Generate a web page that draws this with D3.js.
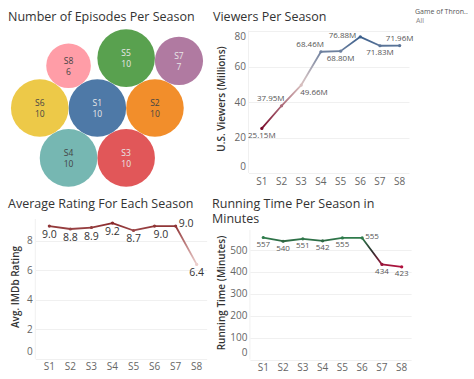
<!DOCTYPE html>
<meta charset="utf-8">
<title>Game of Thrones dashboard</title>
<style>
body {
  margin: 0;
  background: #fff;
}
svg {
  position: absolute;
  top: 0;
  left: 0;
  font-family: "Open Sans", "Noto Sans", sans-serif;
}
.title {
  font-size: 12.5px;
  fill: #333;
}
.tick-label {
  font-size: 10px;
  fill: #666;
}
.axis-title {
  font-size: 10px;
  font-weight: 600;
  fill: #333;
}
.grid {
  stroke: #f0f0f0;
  stroke-width: 1;
}
</style>
<body>
<script src="https://d3js.org/d3.v7.min.js"></script>
<script>

var width = 474,
    height = 379;

// ---- data ----
var seasons = ["S1", "S2", "S3", "S4", "S5", "S6", "S7", "S8"];
var episodes = [10, 10, 10, 10, 10, 10, 7, 6];
var viewers = [25.15, 37.95, 49.66, 68.46, 68.80, 76.88, 71.83, 71.96];
var ratings = [9.0, 8.8, 8.9, 9.2, 8.7, 9.0, 9.0, 6.4];
var runtimes = [557, 540, 551, 542, 555, 555, 434, 423];

var viewerTicks = [0, 20, 40, 60, 80];
var ratingTicks = [0, 2, 4, 6, 8];
var runtimeTicks = [0, 100, 200, 300, 400, 500];

var bubbleColors = ["#4e79a7", "#f28e2b", "#e15759", "#76b7b2", "#59a14f", "#edc948", "#b07aa1", "#ff9da7"];
// which bubbles each bubble sits against in the packed layout
var bubbleLinks = [["S1"], ["S2", "S1", "right"], ["S6", "S1", "left"], ["S5", "S1", "S2"],
                   ["S3", "S2", "S1"], ["S4", "S1", "S6"], ["S8", "S6", "S1"], ["S7", "S5", "S2"]];

// label placement around each point
var viewerLabelPos = ["b", "al", "br", "al", "b", "l", "b", "a"];
var ratingLabelPos = ["b", "b", "b", "b", "b", "br", "r", "b"];
var runtimeLabelPos = ["b", "b", "b", "b", "b", "r", "b", "b"];

var svg = d3.select("body").append("svg")
    .attr("width", width)
    .attr("height", height);

var defs = svg.append("defs");

// ================= bubbles =================
svg.append("text").attr("class", "title")
    .attr("x", 8).attr("y", 21)
    .text("Number of Episodes Per Season");

var rScale = d3.scaleSqrt().domain([0, 10]).range([0, 28.8]);

var nodes = {};
seasons.forEach(function(s, i) {
  nodes[s] = {season: s, value: episodes[i], r: rScale(episodes[i]), color: bubbleColors[i]};
});

// circle of radius c.r touching a and b, on the left side of a -> b
function place(a, b, c) {
  var dx = b.x - a.x, dy = b.y - a.y,
      d = Math.sqrt(dx * dx + dy * dy),
      la = a.r + c.r, lb = b.r + c.r,
      x = (d * d + la * la - lb * lb) / (2 * d),
      h = Math.sqrt(Math.max(0, la * la - x * x)),
      ux = dx / d, uy = dy / d;
  c.x = a.x + x * ux + h * uy;
  c.y = a.y + x * uy - h * ux;
}

bubbleLinks.forEach(function(l) {
  var c = nodes[l[0]];
  if (l.length == 1) { c.x = 0; c.y = 0; return; }
  var a = nodes[l[1]];
  if (l[2] == "right") { c.x = a.x + a.r + c.r; c.y = a.y; return; }
  if (l[2] == "left") { c.x = a.x - a.r - c.r; c.y = a.y; return; }
  place(a, nodes[l[2]], c);
});

var bubbleData = seasons.map(function(s) { return nodes[s]; });
var bx0 = d3.min(bubbleData, function(d) { return d.x - d.r; }),
    bx1 = d3.max(bubbleData, function(d) { return d.x + d.r; }),
    by0 = d3.min(bubbleData, function(d) { return d.y - d.r; }),
    by1 = d3.max(bubbleData, function(d) { return d.y + d.r; });

var bubbles = svg.append("g")
    .attr("transform", "translate(" + (107 - (bx0 + bx1) / 2) + "," + (108 - (by0 + by1) / 2) + ")");

var bub = bubbles.selectAll("g")
    .data(bubbleData)
  .enter().append("g")
    .attr("transform", function(d) { return "translate(" + d.x + "," + d.y + ")"; });

bub.append("circle")
    .attr("r", function(d) { return d.r; })
    .attr("fill", function(d) { return d.color; });

var lightText = {"S1": 1, "S3": 1, "S5": 1, "S7": 1};
bub.append("text")
    .attr("text-anchor", "middle")
    .attr("font-size", 8.5)
    .attr("fill", function(d) { return lightText[d.season] ? "#e8e8e8" : "#444"; })
    .selectAll("tspan")
    .data(function(d) { return [d.season, d.value]; })
  .enter().append("tspan")
    .attr("x", 0)
    .attr("y", function(d, i) { return i == 0 ? -2 : 9; })
    .text(function(d) { return d; });

// ================= line charts =================
function lineChart(opt) {
  var g = svg.append("g");

  var x = d3.scalePoint().domain(seasons).range([opt.x0, opt.x1]).padding(0.5);
  var y = d3.scaleLinear().domain([0, opt.ticks[opt.ticks.length - 1]]).range([opt.yBottom, opt.yTopTick]);

  // grid
  g.selectAll("line.grid")
      .data(opt.ticks)
    .enter().append("line")
      .attr("class", "grid")
      .attr("x1", opt.x0 - 3).attr("x2", opt.x1)
      .attr("y1", function(d) { return Math.round(y(d)) + 0.5; })
      .attr("y2", function(d) { return Math.round(y(d)) + 0.5; });

  g.append("line")
      .attr("class", "grid")
      .attr("x1", opt.x0 - 3.5).attr("x2", opt.x0 - 3.5)
      .attr("y1", opt.yTop).attr("y2", opt.yBottom);

  // y tick labels, kept inside the pane like tableau does
  g.selectAll("text.ytick")
      .data(opt.ticks)
    .enter().append("text")
      .attr("class", "tick-label")
      .attr("text-anchor", "end")
      .attr("x", opt.x0 - 6)
      .attr("y", function(d) { return Math.max(opt.yTop + 6, Math.min(opt.yBottom - 7, y(d))) + 3.5; })
      .text(function(d) { return d; });

  // x labels
  g.selectAll("text.xtick")
      .data(seasons)
    .enter().append("text")
      .attr("class", "tick-label")
      .attr("text-anchor", "middle")
      .attr("x", function(d) { return x(d); })
      .attr("y", opt.yBottom + 11.5)
      .text(function(d) { return d; });

  // axis title
  g.append("text")
      .attr("class", "axis-title")
      .attr("text-anchor", "middle")
      .attr("transform", "translate(" + opt.titleX + "," + opt.titleY + ") rotate(-90)")
      .text(opt.yTitle);

  var pts = opt.values.map(function(v, i) { return [x(seasons[i]), y(v), v]; });

  // one gradient segment between each pair of points
  d3.pairs(pts).forEach(function(p, i) {
    var id = opt.id + "-seg" + i;
    var grad = defs.append("linearGradient")
        .attr("id", id)
        .attr("gradientUnits", "userSpaceOnUse")
        .attr("x1", p[0][0]).attr("y1", p[0][1])
        .attr("x2", p[1][0]).attr("y2", p[1][1]);
    d3.range(0, 1.001, 0.25).forEach(function(t) {
      grad.append("stop")
          .attr("offset", t)
          .attr("stop-color", opt.color(p[0][2] + (p[1][2] - p[0][2]) * t));
    });
    g.append("line")
        .attr("x1", p[0][0]).attr("y1", p[0][1])
        .attr("x2", p[1][0]).attr("y2", p[1][1])
        .attr("stroke", "url(#" + id + ")")
        .attr("stroke-width", 1.8)
        .attr("stroke-linecap", "round");
  });

  g.selectAll("circle")
      .data(pts)
    .enter().append("circle")
      .attr("cx", function(d) { return d[0]; })
      .attr("cy", function(d) { return d[1]; })
      .attr("r", 1.6)
      .attr("fill", function(d) { return opt.color(d[2]); });

  // point labels
  g.selectAll("text.mark")
      .data(pts)
    .enter().append("text")
      .attr("font-size", opt.labelSize)
      .attr("fill", opt.labelColor)
      .attr("text-anchor", function(d, i) {
        var p = opt.labelPos[i];
        return p == "al" || p == "l" ? "end" : (p == "br" || p == "r" ? "start" : "middle");
      })
      .attr("x", function(d, i) {
        var p = opt.labelPos[i];
        if (p == "al") return d[0] + 3;
        if (p == "l") return d[0] - 4;
        if (p == "br") return d[0] - 1;
        if (p == "r") return d[0] + 3;
        return d[0];
      })
      .attr("y", function(d, i) {
        var p = opt.labelPos[i];
        if (p == "a" || p == "al") return d[1] - 5;
        if (p == "l" || p == "r") return d[1] + 1;
        return d[1] + opt.labelSize + 1.5;
      })
      .text(function(d) { return opt.format(d[2]); });
}

// viewers per season
svg.append("text").attr("class", "title")
    .attr("x", 213).attr("y", 21)
    .text("Viewers Per Season");

lineChart({
  id: "viewers",
  values: viewers,
  ticks: viewerTicks,
  x0: 252, x1: 409.5,
  yTop: 30.5, yTopTick: 31.3, yBottom: 173,
  yTitle: "U.S. Viewers (Millions)", titleX: 225, titleY: 99,
  color: d3.scaleLinear().domain([25.15, 51, 76.88]).range(["#7a0b2b", "#dcc8c6", "#3a5f8c"]),
  labelPos: viewerLabelPos,
  labelSize: 8,
  labelColor: "#555",
  format: function(v) { return v.toFixed(2) + "M"; }
});

// average rating
svg.append("text").attr("class", "title")
    .attr("x", 8).attr("y", 207.5)
    .text("Average Rating For Each Season");

lineChart({
  id: "rating",
  values: ratings,
  ticks: ratingTicks,
  x0: 38.8, x1: 207.2,
  yTop: 219, yTopTick: 240.8, yBottom: 358.8,
  yTitle: "Avg. IMDb Rating", titleX: 19, titleY: 287,
  color: d3.scaleLinear().domain([6.4, 9.2]).range(["#eccfcd", "#8a2a2c"]),
  labelPos: ratingLabelPos,
  labelSize: 10.5,
  labelColor: "#333",
  format: function(v) { return v.toFixed(1); }
});

// running time
svg.append("text").attr("class", "title")
    .attr("x", 212).attr("y", 207.5)
    .text("Running Time Per Season in");
svg.append("text").attr("class", "title")
    .attr("x", 212).attr("y", 223)
    .text("Minutes");

lineChart({
  id: "runtime",
  values: runtimes,
  ticks: runtimeTicks,
  x0: 253.4, x1: 411.6,
  yTop: 230, yTopTick: 250, yBottom: 359.5,
  yTitle: "Running Time (Minutes)", titleX: 225, titleY: 293,
  color: d3.scaleLinear().domain([423, 490, 557]).range(["#b0123e", "#2a2a2a", "#2f7d4c"]),
  labelPos: runtimeLabelPos,
  labelSize: 8,
  labelColor: "#555",
  format: function(v) { return v; }
});

// filter card
svg.append("text")
    .attr("x", 415).attr("y", 13.5)
    .attr("font-size", 7)
    .attr("fill", "#555")
    .text("Game of Thron..");
svg.append("text")
    .attr("x", 416).attr("y", 23)
    .attr("font-size", 7)
    .attr("fill", "#888")
    .text("All");

</script>
